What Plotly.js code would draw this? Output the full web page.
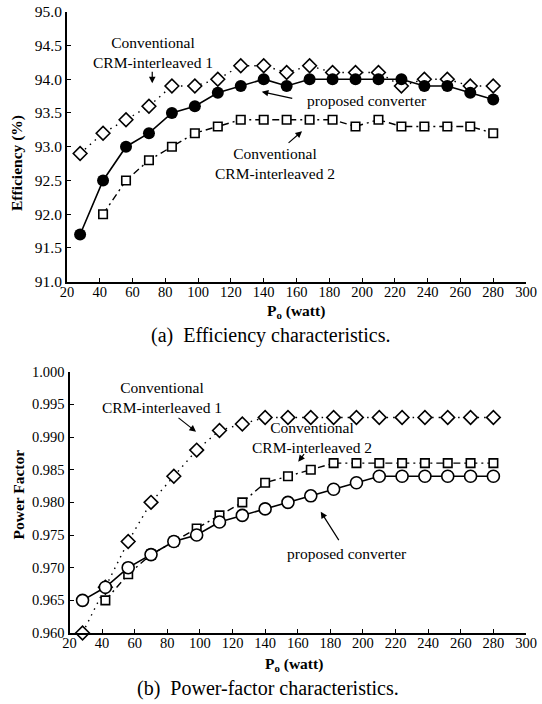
<!DOCTYPE html>
<html>
<head>
<meta charset="utf-8">
<script src="https://cdn.plot.ly/plotly-3.0.1.min.js"></script>
<style>
html,body{margin:0;padding:0;background:#fff;}
#chart{width:542px;height:704px;}
</style>
</head>
<body>
<div id="chart"></div>
<script>
// ---- Data ----
const powerW = [28, 42, 56, 70, 84, 98, 112, 126, 140, 154, 168, 182, 196, 210, 224, 238, 252, 266, 280];
const powerW2 = [42, 56, 70, 84, 98, 112, 126, 140, 154, 168, 182, 196, 210, 224, 238, 252, 266, 280];

// (a) Efficiency (%)
const effProposed = [91.7, 92.5, 93.0, 93.2, 93.5, 93.6, 93.8, 93.9, 94.0, 93.9, 94.0, 94.0, 94.0, 94.0, 94.0, 93.9, 93.9, 93.8, 93.7];
const effCRM1 = [92.9, 93.2, 93.4, 93.6, 93.9, 93.9, 94.0, 94.2, 94.2, 94.1, 94.2, 94.1, 94.1, 94.1, 93.9, 94.0, 94.0, 93.9, 93.9];
const effCRM2 = [92.0, 92.5, 92.8, 93.0, 93.2, 93.3, 93.4, 93.4, 93.4, 93.4, 93.4, 93.3, 93.4, 93.3, 93.3, 93.3, 93.3, 93.2];

// (b) Power factor
const pfProposed = [0.965, 0.967, 0.970, 0.972, 0.974, 0.975, 0.977, 0.978, 0.979, 0.980, 0.981, 0.982, 0.983, 0.984, 0.984, 0.984, 0.984, 0.984, 0.984];
const pfCRM1 = [0.960, 0.967, 0.974, 0.980, 0.984, 0.988, 0.991, 0.992, 0.993, 0.993, 0.993, 0.993, 0.993, 0.993, 0.993, 0.993, 0.993, 0.993, 0.993];
const pfCRM2 = [0.965, 0.969, 0.972, 0.974, 0.976, 0.978, 0.980, 0.983, 0.984, 0.985, 0.986, 0.986, 0.986, 0.986, 0.986, 0.986, 0.986, 0.986];

const seriesNames = ['proposed converter', 'Conventional CRM-interleaved 1', 'Conventional CRM-interleaved 2'];
const xTickVals = [20, 40, 60, 80, 100, 120, 140, 160, 180, 200, 220, 240, 260, 280, 300];

// ---- Styling ----
const FONT = 'Liberation Serif';
const dotted = '1.5px,5px';
const dashdot = '7px,4px,2px,4px';

function openMarker(sym, size) {
  return {symbol: sym, size: size, color: '#fff', line: {color: '#000', width: 1.6}};
}

const traces = [
  // (a)
  {x: powerW, y: effCRM1, name: seriesNames[1], xaxis: 'x', yaxis: 'y', mode: 'lines+markers',
   line: {color: '#000', width: 1.4, dash: dotted}, marker: openMarker('diamond', 10.5), cliponaxis: false},
  {x: powerW2, y: effCRM2, name: seriesNames[2], xaxis: 'x', yaxis: 'y', mode: 'lines+markers',
   line: {color: '#000', width: 1.4, dash: dashdot}, marker: openMarker('square', 8.5), cliponaxis: false},
  {x: powerW, y: effProposed, name: seriesNames[0], xaxis: 'x', yaxis: 'y', mode: 'lines+markers',
   line: {color: '#000', width: 1.6}, marker: {symbol: 'circle', size: 12, color: '#000'}, cliponaxis: false},
  // (b)
  {x: powerW, y: pfCRM1, name: seriesNames[1], xaxis: 'x2', yaxis: 'y2', mode: 'lines+markers',
   line: {color: '#000', width: 1.4, dash: dotted}, marker: openMarker('diamond', 10.5), cliponaxis: false},
  {x: powerW2, y: pfCRM2, name: seriesNames[2], xaxis: 'x2', yaxis: 'y2', mode: 'lines+markers',
   line: {color: '#000', width: 1.4, dash: dashdot}, marker: openMarker('square', 8.5), cliponaxis: false},
  {x: powerW, y: pfProposed, name: seriesNames[0], xaxis: 'x2', yaxis: 'y2', mode: 'lines+markers',
   line: {color: '#000', width: 1.6}, marker: openMarker('circle', 12), cliponaxis: false}
];

const W = 542, H = 704;
const px = v => v / W;
const py = v => 1 - v / H;

function xAxis(domain, anchor) {
  return {domain: domain, anchor: anchor, range: [20, 300], tickvals: xTickVals,
    ticks: 'inside', ticklen: 4, tickwidth: 1, tickcolor: '#000', ticklabelstandoff: -4,
    showline: true, linewidth: 2, linecolor: '#000', showgrid: false, zeroline: false,
    tickfont: {family: FONT, size: 14.5, color: '#000'}, fixedrange: true};
}
function yAxis(domain, anchor, range, dtick, fmt, fs) {
  return {domain: domain, anchor: anchor, range: range, dtick: dtick, tick0: range[0], tickformat: fmt,
    ticks: 'inside', ticklen: 4, tickwidth: 1, tickcolor: '#000',
    showline: true, linewidth: 2, linecolor: '#000', showgrid: false, zeroline: false,
    tickfont: {family: FONT, size: fs, color: '#000'}, fixedrange: true};
}

const txt = {family: FONT, size: 15.5, color: '#000'};
function label(text, x, y, xref, yref) {
  return {text: text, x: x, y: y, xref: xref, yref: yref, showarrow: false, font: txt,
    xanchor: 'center', yanchor: 'middle', align: 'center'};
}
function arrow(x, y, ax, ay, xref, yref) {
  return {text: '', x: x, y: y, ax: ax, ay: ay, xref: xref, yref: yref, showarrow: true,
    arrowhead: 2, arrowsize: 1.1, arrowwidth: 1.2, arrowcolor: '#000', standoff: 0, startstandoff: 0};
}
function paperText(text, x, y, size, angle, bold) {
  return {text: bold ? '<b>' + text + '</b>' : text, x: px(x), y: py(y), xref: 'paper', yref: 'paper',
    showarrow: false, textangle: angle || 0, xanchor: 'center', yanchor: 'middle',
    font: {family: FONT, size: size, color: '#000'}};
}

const layout = {
  width: W, height: H,
  margin: {l: 0, r: 0, t: 0, b: 0},
  paper_bgcolor: '#fff', plot_bgcolor: '#fff',
  showlegend: false,
  xaxis: xAxis([px(67), px(526)], 'y'),
  yaxis: yAxis([py(281.7), py(11.7)], 'x', [91, 95], 0.5, '.1f', 15.5),
  xaxis2: xAxis([px(69.5), px(526)], 'y2'),
  yaxis2: yAxis([py(633), py(371.7)], 'x2', [0.96, 1.0], 0.005, '.3f', 14.5),
  annotations: [
    // (a)
    label('Conventional<br>CRM-interleaved 1', 72.3, 94.40, 'x', 'y'),
    arrow(72, 93.94, 0, -13, 'x', 'y'),
    label('proposed converter', 202.8, 93.69, 'x', 'y'),
    arrow(138.8, 93.815, 32, 7, 'x', 'y'),
    label('Conventional<br>CRM-interleaved 2', 146.9, 92.75, 'x', 'y'),
    arrow(163.4, 93.23, -15, 13, 'x', 'y'),
    // (b)
    label('Conventional<br>CRM-interleaved 1', 77.0, 0.99605, 'x2', 'y2'),
    arrow(97.6, 0.99082, -19, -15, 'x2', 'y2'),
    label('Conventional<br>CRM-interleaved 2', 168.7, 0.98993, 'x2', 'y2'),
    arrow(160.3, 0.98622, 7, -9, 'x2', 'y2'),
    label('proposed converter', 190.5, 0.9722, 'x2', 'y2'),
    arrow(174.1, 0.97857, 19, 30, 'x2', 'y2'),
    // axis titles
    paperText('Efficiency (%)', 17, 163, 15.5, -90, true),
    paperText('P<sub>o</sub> (watt)', 296, 311, 15.5, 0, true),
    paperText('Power Factor', 17.5, 495, 15.5, -90, true),
    paperText('P<sub>o</sub> (watt)', 294, 664, 15.5, 0, true),
    // captions
    paperText('(a)&nbsp; Efficiency characteristics.', 271, 335, 20, 0, false),
    paperText('(b)&nbsp; Power-factor characteristics.', 268, 688, 20, 0, false)
  ]
};

Plotly.newPlot('chart', traces, layout, {displayModeBar: false, staticPlot: true});
</script>
</body>
</html>
